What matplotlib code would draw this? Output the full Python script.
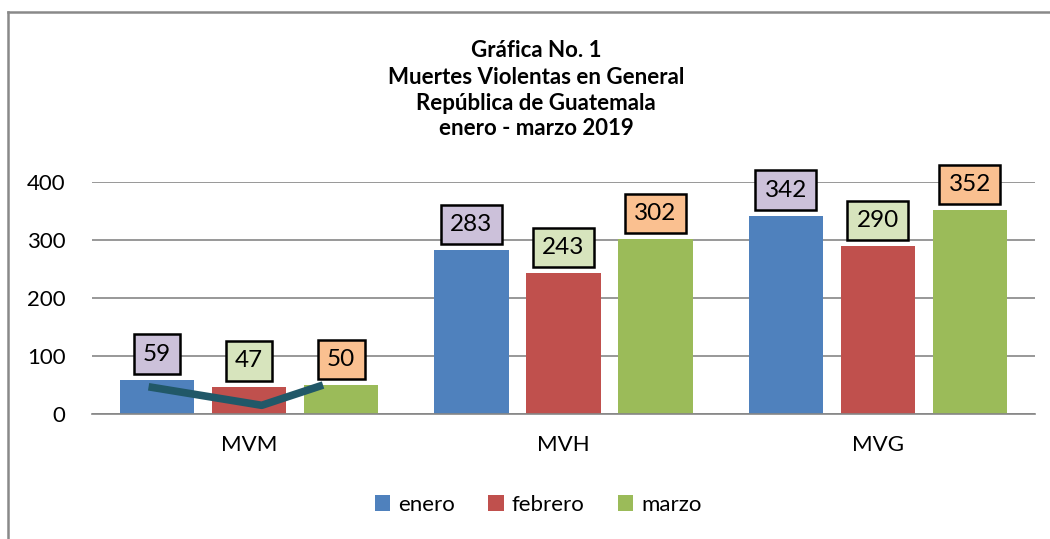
import matplotlib
matplotlib.use("Agg")
import matplotlib.pyplot as plt
from matplotlib.patches import Patch
from matplotlib.lines import Line2D
import numpy as np

categories = ["MVM", "MVH", "MVG"]
series_names = ["enero", "febrero", "marzo"]
enero = [59, 283, 342]
febrero = [47, 243, 290]
marzo = [50, 302, 352]
yticks = [0, 100, 200, 300, 400]
title_lines = ["Gráfica No. 1", "Muertes Violentas en General",
               "República de Guatemala", "enero - marzo 2019"]
# hand-drawn line over MVM group (x offsets within the group, values)
trend_pos = [-0.32, 0.04, 0.235]
trend_vals = [47, 15, 50]

bar_colors = ["#4F81BD", "#C0504D", "#9BBB59"]
label_fills = ["#CCC1DA", "#D7E4BD", "#FAC090"]

plt.rcParams['font.family'] = ['Lato', 'DejaVu Sans']

W, H = 1050, 539
fig = plt.figure(figsize=(W / 100, H / 100), dpi=100)
ax = fig.add_axes([92 / W, (H - 414) / H, (1035 - 92) / W, (414 - 182.3) / H])

x = np.arange(len(categories))
step = 0.2927
width = 0.2355
data = [enero, febrero, marzo]
for i, (name, vals) in enumerate(zip(series_names, data)):
    pos = x + (i - 1) * step
    ax.bar(pos, vals, width=width, color=bar_colors[i], zorder=2, label=name)
    for px, v in zip(pos, vals):
        ax.annotate(str(v), (px, v), xytext=(0, 11), textcoords="offset points",
                    ha="center", va="bottom", fontsize=17.5, color="black", zorder=5,
                    bbox=dict(boxstyle="square,pad=0.38", fc=label_fills[i],
                              ec="black", lw=1.8))

ax.plot(np.array(trend_pos) + x[0], trend_vals, color="#215868", lw=5.5,
        solid_capstyle="butt", zorder=4)

ax.set_xlim(-0.5, 2.5)
ax.set_ylim(0, 400)
ax.set_yticks(yticks)
ax.set_xticks(x)
ax.set_xticklabels(categories)
ax.tick_params(axis="y", length=0, pad=19, labelsize=16)
ax.tick_params(axis="x", length=0, pad=15, labelsize=16)
ax.grid(axis="y", color="#868686", lw=1.2, zorder=0)
ax.set_axisbelow(True)
for s in ["top", "right", "left"]:
    ax.spines[s].set_visible(False)
ax.spines["bottom"].set_color("#868686")
ax.spines["bottom"].set_linewidth(1.2)

baselines = [57, 84, 110, 135]
for line, b in zip(title_lines, baselines):
    fig.text(536 / W, 1 - b / H, line, ha="center", va="baseline",
             fontsize=16, fontweight="bold")

handles = [Patch(facecolor=c, edgecolor="none") for c in bar_colors]
fig.legend(handles, series_names, loc="center", bbox_to_anchor=(538 / W, 1 - 505 / H),
           ncol=3, frameon=False, fontsize=16, handlelength=0.7, handleheight=0.7,
           handletextpad=0.35, columnspacing=1.5)

# outer frame (left and top edges visible)
fig.add_artist(Line2D([8 / W, 8 / W], [0, 1 - 12 / H], transform=fig.transFigure,
                      color="#898989", lw=1.8))
fig.add_artist(Line2D([8 / W, 1], [1 - 12 / H, 1 - 12 / H], transform=fig.transFigure,
                      color="#898989", lw=1.8))

fig.savefig("out.png", dpi=100)
